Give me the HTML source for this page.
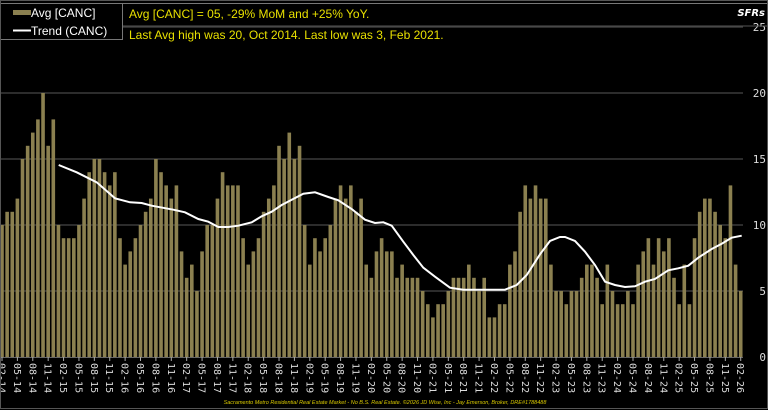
<!DOCTYPE html>
<html><head><meta charset="utf-8"><style>
html,body{margin:0;padding:0;background:#000;}
svg{display:block}
</style></head><body>
<svg id="c" width="768" height="410" xmlns="http://www.w3.org/2000/svg"></svg>
<script>
const v=[10,11,11,12,15,16,17,18,20,16,18,10,9,9,9,10,12,14,15,15,14,13,14,9,7,8,9,10,11,12,15,14,13,12,13,8,6,7,5,8,10,10,12,14,13,13,13,9,7,8,9,11,12,13,16,15,17,15,16,10,7,9,8,9,10,12,13,12,13,11,12,7,6,8,9,8,8,6,7,6,6,6,5,4,3,4,4,5,6,6,6,7,6,5,6,3,3,4,4,7,8,11,13,12,13,12,12,7,5,5,4,5,5,6,7,7,6,4,7,5,4,4,5,4,7,8,9,7,9,8,9,6,4,7,4,9,11,12,12,11,10,9,13,7,5];
const tr=[[58.7,165],[76.7,172.3],[96.7,182.3],[106.7,191],[115,198.3],[130,202.3],[141.7,203],[151.7,205.7],[173.3,209.7],[185,212.3],[198.3,219],[208.3,221.7],[218.3,227],[228.3,227],[238.3,225.7],[251.7,222.3],[261.7,216.3],[271.7,211.7],[281.7,205],[291.7,199.7],[303.3,193.7],[315,192.3],[328.3,197],[338.3,200.3],[351.7,209],[365,219.7],[375,223],[383.3,222.3],[391.7,225.7],[403.3,241.7],[413.3,255],[423.3,267.7],[435,276.7],[450,287.7],[463.3,289.7],[480,289.7],[505,289.7],[516.7,285],[526.7,275],[540,254.3],[550,241],[560,237],[565,237],[575,241],[585,251.7],[595,265],[605,281.7],[615,285],[625,287],[635,286.3],[645,281.7],[655,279],[668.3,270.3],[678.3,268.3],[688.3,265.7],[698.3,257.7],[711.7,249],[721.7,243.7],[731.7,237.7],[741.7,235.7]];
let s='';
const y0=357,k=13.2;
for(let i=0;i<=5;i++){const y=y0-i*5*k;if(i>0)s+=`<line x1="0" y1="${y}" x2="743" y2="${y}" stroke="#3a3a3a" stroke-width="1.5"/>`;
s+=`<text x="766" y="${y+4}" text-anchor="end" fill="#ddd" font-family="DejaVu Sans Mono,monospace" font-size="11">${i*5}</text>`;}
const cx=i=>2+i*5.13;
v.forEach((a,i)=>{s+=`<rect x="${(cx(i)-1.8).toFixed(2)}" y="${y0-a*k}" width="3.6" height="${a*k}" fill="#8b8050"/>`;});
s+=`<polyline points="${tr.map(p=>p.join(',')).join(' ')}" fill="none" stroke="#fff" stroke-width="2"/>`;
s+=`<line x1="0" y1="357.5" x2="743" y2="357.5" stroke="#666"/>`;
const m=['02','05','08','11'];
for(let i=0;i<145;i+=3){const x=cx(i);const yr=14+Math.floor(i/12);const lab=m[(i%12)/3]+'-'+yr;
s+=`<line x1="${x}" y1="357" x2="${x}" y2="361" stroke="#aaa"/>`;
s+=`<text transform="translate(${x-3.5},363) rotate(90)" fill="#ddd" font-family="DejaVu Sans Mono,monospace" font-size="10">${lab}</text>`;}
// legend & header
s+=`<rect x="0.5" y="3.5" width="122" height="36" fill="#000" stroke="#777"/>`;
s+=`<line x1="123" y1="3.5" x2="768" y2="3.5" stroke="#777"/><line x1="123" y1="26" x2="768" y2="26" stroke="#555"/>`;
s+=`<rect x="13" y="10" width="18" height="5" fill="#8b8050"/><text x="31" y="17" fill="#fff" font-family="Liberation Sans,sans-serif" font-size="12">Avg [CANC]</text>`;
s+=`<line x1="13" y1="30.5" x2="31" y2="30.5" stroke="#fff" stroke-width="2"/><text x="31" y="35" fill="#fff" font-family="Liberation Sans,sans-serif" font-size="12">Trend (CANC)</text>`;
s+=`<text x="129" y="18" fill="#e8e000" font-family="Liberation Sans,sans-serif" font-size="12">Avg [CANC] = 05, -29% MoM and +25% YoY.</text>`;
s+=`<text x="129" y="39" fill="#e8e000" font-family="Liberation Sans,sans-serif" font-size="12">Last Avg high was 20, Oct 2014. Last low was 3, Feb 2021.</text>`;
s+=`<text x="765" y="16" text-anchor="end" fill="#fff" font-family="DejaVu Sans,sans-serif" font-size="10" font-style="italic" font-weight="bold">SFRs</text>`;
s+=`<text x="385" y="404" text-anchor="middle" fill="#d8c800" font-family="Liberation Sans,sans-serif" font-size="5.5" font-style="italic">Sacramento Metro Residential Real Estate Market - No B.S. Real Estate. ©2026 JD Wise, Inc - Jay Emerson, Broker, DRE#1788488</text>`;
s+=`<rect x="0.5" y="0.5" width="767" height="408" fill="none" stroke="#555"/>`;
document.getElementById('c').innerHTML=s;
</script>
</body></html>
